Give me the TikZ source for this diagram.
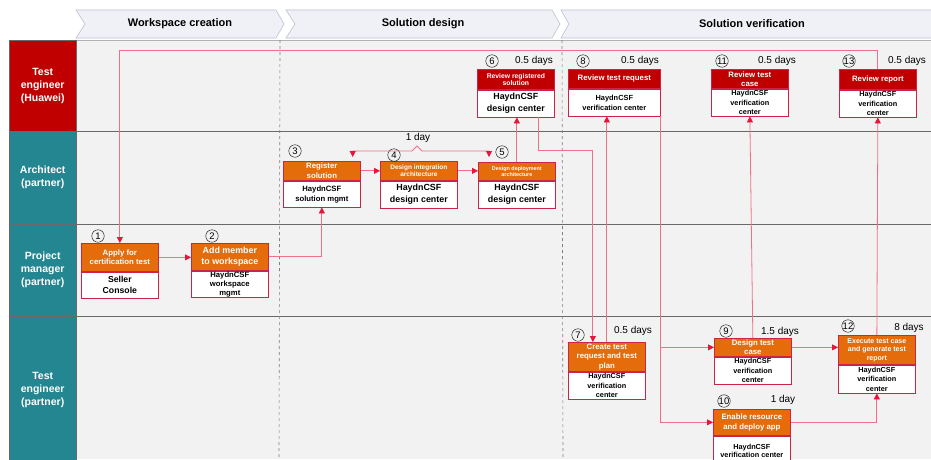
\documentclass[tikz,border=0pt]{standalone}
\usepackage{fontspec}
\setmainfont{Liberation Sans}
\usetikzlibrary{arrows.meta,calc}
\definecolor{lanered}{RGB}{192,0,0}
\definecolor{laneteal}{RGB}{36,134,144}
\definecolor{taskorange}{RGB}{228,108,10}
\definecolor{boxline}{RGB}{204,36,72}
\definecolor{linkpink}{RGB}{240,112,136}
\definecolor{arrowred}{RGB}{232,20,60}
\definecolor{bodygrey}{RGB}{242,242,242}
\definecolor{chevfill}{RGB}{240,241,246}
\definecolor{chevline}{RGB}{188,192,212}
\definecolor{sepgrey}{RGB}{105,105,105}
\newcommand{\fs}[2]{\bfseries\fontsize{#1}{#2}\selectfont}
\tikzset{
  lane/.style={draw=sepgrey, fill=laneteal, text=white, font=\fs{10.5}{13}, align=center, anchor=north west, minimum width=67pt, inner sep=0pt},
  chev/.style={draw=chevline, fill=chevfill, line width=0.6pt},
  phasetext/.style={font=\fs{11}{13}},
  hdr/.style={draw=boxline, fill=taskorange, text=white, align=center, anchor=north west, minimum width=77pt, inner sep=0pt, line width=0.7pt},
  rev/.style={hdr, fill=lanered},
  bdy/.style={draw=boxline, fill=white, align=center, anchor=north, minimum width=77pt, inner sep=0pt, line width=0.7pt},
  num/.style={circle, draw, inner sep=0pt, minimum size=12.5pt, font=\fontsize{9.5}{9.5}\selectfont},
  dur/.style={font=\fontsize{10}{11}\selectfont},
  flow/.style={draw=linkpink, line width=0.8pt, ->},
  sep/.style={draw=sepgrey, line width=0.8pt},
  phase/.style={draw=gray, dashed, line width=0.6pt}
}
\begin{document}
\begin{tikzpicture}[x=1pt, y=-1pt, >={Triangle[length=6pt,width=6pt,color=arrowred]}]
\useasboundingbox (0,0) rectangle (931,459);
\clip (0,0) rectangle (931,459);
\fill[white] (0,0) rectangle (931,459);
\fill[bodygrey] (76,40) rectangle (931,459);
\draw[chev] (76,10) -- (276,10) -- (284,24) -- (276,38) -- (76,38) -- (85,24) -- cycle;
\draw[chev] (286,10) -- (552,10) -- (560,24) -- (552,38) -- (286,38) -- (295,24) -- cycle;
\draw[chev] (561,10) -- (935,10) -- (935,38) -- (561,38) -- (569,24) -- cycle;
\node[phasetext] (ph1) at (180,24) {Workspace creation};
\node[phasetext] (ph2) at (423,24) {Solution design};
\node[phasetext] (ph3) at (752,24) {Solution verification};
\draw[draw=gray!60] (76,40) -- (931,40);
\foreach \y in {131,224,316} \draw[sep] (76,\y) -- (931,\y);
\draw[phase] (280,40) -- (279,459);
\draw[phase] (562,40) -- (563,459);
\node[lane, fill=lanered, minimum height=91pt] (l1) at (9,40) {Test\\engineer\\(Huawei)};
\node[lane, minimum height=93pt] (l2) at (9,131) {Architect\\(partner)};
\node[lane, minimum height=92pt] (l3) at (9,224) {Project\\manager\\(partner)};
\node[lane, minimum height=148pt] (l4) at (9,316) {Test\\engineer\\(partner)};

\node[hdr, minimum height=28pt, font=\fs{7.8}{9.5}] (b1h) at (81,243) {Apply for\\certification test};
\node[bdy, minimum height=26pt, font=\fs{8.7}{11}] (b1) at (b1h.south) {Seller\\Console};
\node[hdr, minimum height=27pt, font=\fs{8.9}{11}] (b2h) at (191,243) {Add member\\to workspace};
\node[bdy, minimum height=26pt, font=\fs{7.7}{9}] (b2) at (b2h.south) {HaydnCSF\\workspace\\mgmt};
\node[hdr, minimum height=19pt, font=\fs{7.8}{9.5}] (b3h) at (283,161) {Register\\solution};
\node[bdy, minimum height=26pt, font=\fs{7.7}{10}] (b3) at (b3h.south) {HaydnCSF\\solution mgmt};
\node[hdr, minimum height=19pt, font=\fs{6.5}{7.5}] (b4h) at (380,161) {Design integration\\architecture};
\node[bdy, minimum height=27pt, font=\fs{8.9}{12}] (b4) at (b4h.south) {HaydnCSF\\design center};
\node[hdr, minimum height=18pt, font=\fs{5.4}{6.5}] (b5h) at (478,162) {Design deployment\\architecture};
\node[bdy, minimum height=27pt, font=\fs{8.9}{12}] (b5) at (b5h.south) {HaydnCSF\\design center};
\node[rev, minimum height=20pt, font=\fs{6.8}{7.5}] (b6h) at (477,69) {Review registered\\solution};
\node[bdy, minimum height=27pt, font=\fs{8.9}{12}] (b6) at (b6h.south) {HaydnCSF\\design center};
\node[rev, minimum width=92pt, minimum height=19pt, font=\fs{7.8}{9.5}] (b8h) at (568,69) {Review test request};
\node[bdy, minimum width=92pt, minimum height=27pt, font=\fs{7.4}{10}] (b8) at (b8h.south) {HaydnCSF\\verification center};
\node[rev, minimum height=19pt, font=\fs{7.8}{9}] (b11h) at (711,69) {Review test\\case};
\node[bdy, minimum height=27pt, font=\fs{7.3}{9.5}] (b11) at (b11h.south) {HaydnCSF\\verification\\center};
\node[rev, minimum height=20pt, font=\fs{7.8}{9.5}] (b13h) at (839,69) {Review report};
\node[bdy, minimum height=27pt, font=\fs{7.3}{9.5}] (b13) at (b13h.south) {HaydnCSF\\verification\\center};
\node[hdr, minimum height=29pt, font=\fs{7.8}{9.5}] (b7h) at (568,342) {Create test\\request and test\\plan};
\node[bdy, minimum height=27pt, font=\fs{7.3}{9.5}] (b7) at (b7h.south) {HaydnCSF\\verification\\center};
\node[hdr, minimum height=18pt, font=\fs{7.8}{9.5}] (b9h) at (714,338) {Design test\\case};
\node[bdy, minimum height=27pt, font=\fs{7.3}{9.5}] (b9) at (b9h.south) {HaydnCSF\\verification\\center};
\node[hdr, minimum height=29pt, font=\fs{7}{8.5}] (b12h) at (838,335) {Execute test case\\and generate test\\report};
\node[bdy, minimum height=28pt, font=\fs{7.3}{9.5}] (b12) at (b12h.south) {HaydnCSF\\verification\\center};
\node[hdr, minimum height=26pt, font=\fs{7.8}{10}] (b10h) at (713,409) {Enable resource\\and deploy app};
\node[bdy, minimum height=30pt, font=\fs{7.3}{8.5}] (b10) at (b10h.south) {HaydnCSF\\verification center};

\node[num] (n1) at (98,236) {1};
\node[num] (n2) at (212,236) {2};
\node[num] (n3) at (295,151) {3};
\node[num] (n4) at (394,155) {4};
\node[num] (n5) at (502,152) {5};
\node[num] (n6) at (492,61) {6};
\node[num] (n8) at (583,61) {8};
\node[num] (n11) at (722,61) {11};
\node[num] (n13) at (849,61) {13};
\node[num] (n7) at (578,335) {7};
\node[num] (n9) at (726,331) {9};
\node[num] (n12) at (848,326) {12};
\node[num] (n10) at (724,401) {10};
\node[dur] (d6) at (534,61) {0.5 days};
\node[dur] (d8) at (640,61) {0.5 days};
\node[dur] (d11) at (777,61) {0.5 days};
\node[dur] (d13) at (907,61) {0.5 days};
\node[dur] (d7) at (633,331) {0.5 days};
\node[dur] (d9) at (780,332) {1.5 days};
\node[dur] (d12) at (909,328) {8 days};
\node[dur] (d10) at (783,400) {1 day};
\node[dur] (d45) at (418,138) {1 day};

\draw[flow] (b1h.east) -- (b1h.east -| b2h.west);
\draw[flow] (b2h.east) -| (b3.south);
\draw[flow] (b3h.east) -- (b3h.east -| b4h.west);
\draw[flow] (b4h.east) -- (b4h.east -| b5h.west);
\draw[flow, <->] ([xshift=-8pt,yshift=4pt]b3h.north east) |- (412,151) -- (417,146) -- (422,151) -| ([xshift=11pt,yshift=5pt]b5h.north west);
\draw[flow] (b5h.north) -- (b5h.north |- b6.south);
\draw[flow] ([xshift=23pt]b6.south) -- ++(0,33) -| ([xshift=-14pt]b7h.north);
\draw[flow] (b7h.north) -- (b7h.north |- b8.south);
\draw[flow] (b8.south east) |- (b9h.west);
\draw[flow] (b8.south east) |- (b10h.west);
\draw[flow] (b9h.north) -- (b11.south);
\draw[flow] (b9h.east) -- (b9h.east -| b12h.west);
\draw[flow] (b10h.east) -| (b12.south);
\draw[flow] (b12h.north) -- (b13.south);
\draw[flow] (b13h.north) -- ++(0,-19) -| (b1h.north);
\end{tikzpicture}
\end{document}
